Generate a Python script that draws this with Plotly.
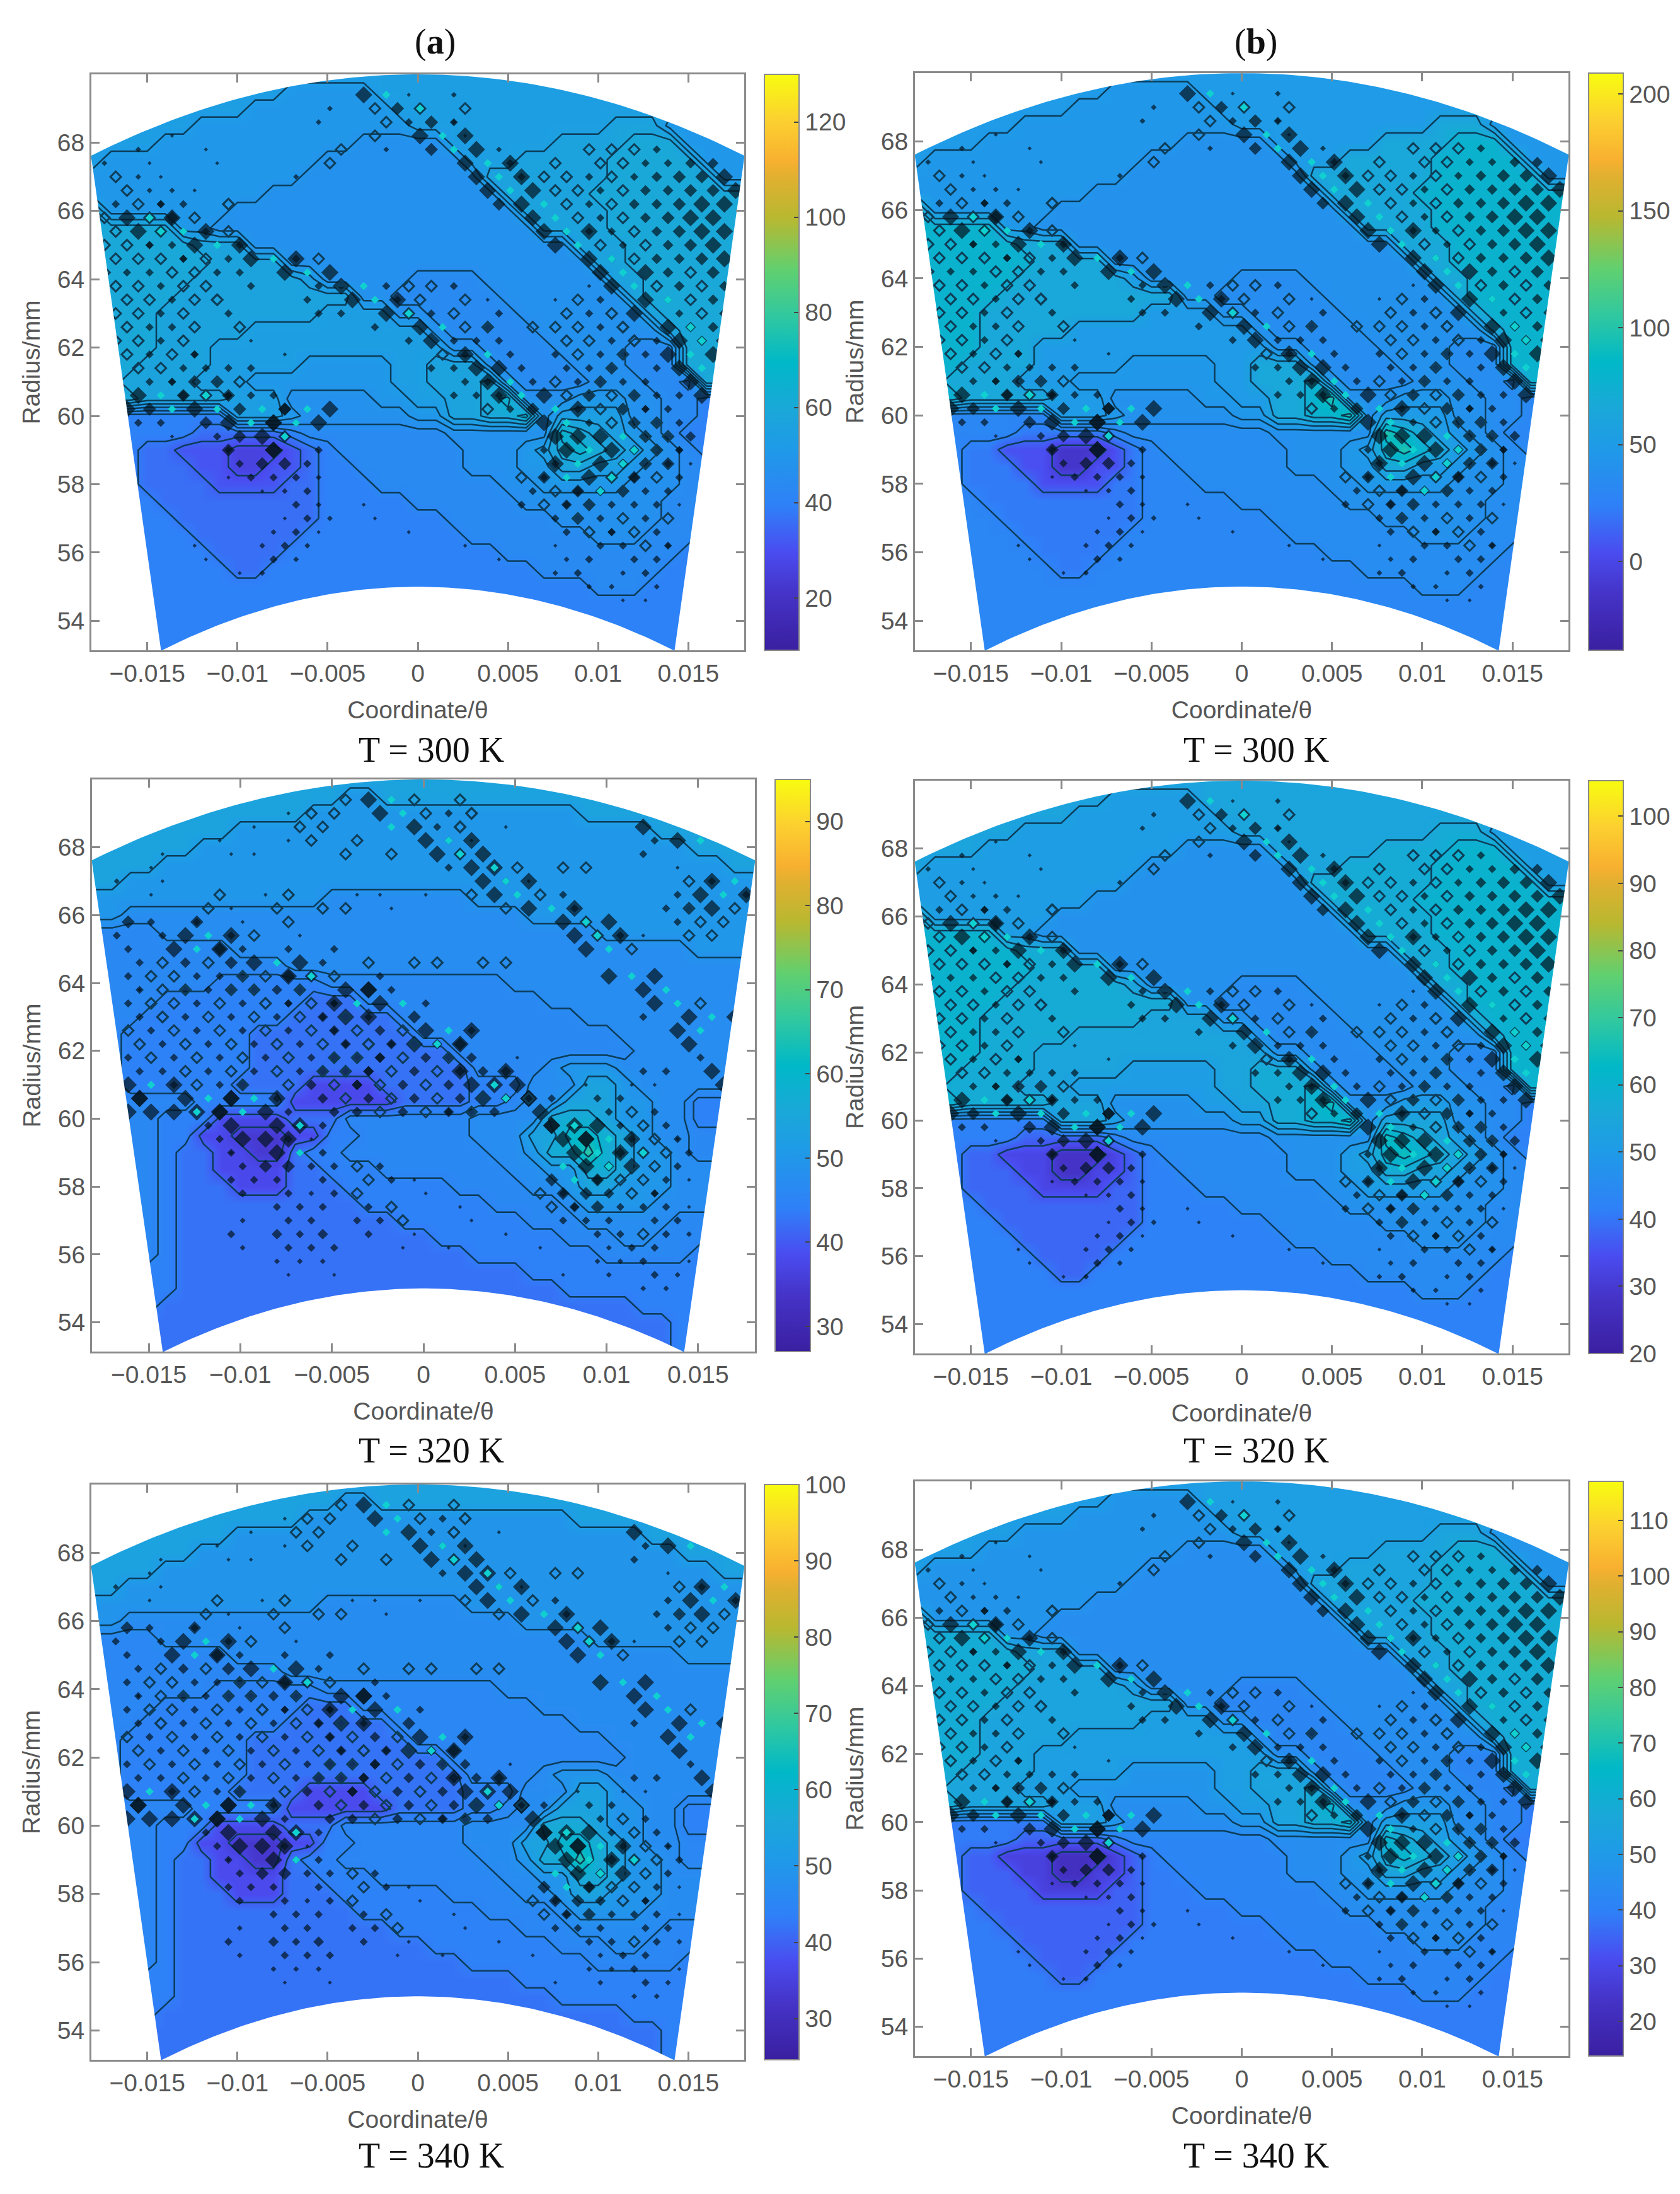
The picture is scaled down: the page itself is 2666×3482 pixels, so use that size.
import numpy as np
import plotly.graph_objects as go

W, H = 2666, 3482

# colour scale
colorscale = [[0, "#3a1fa0"], [0.1, "#4534c8"], [0.17, "#4a4cf0"], [0.25, "#2f80f8"], [0.35, "#1f9ae8"],
              [0.42, "#1aa8d8"], [0.5, "#00b8c8"], [0.58, "#30c8a0"], [0.66, "#60d070"], [0.75, "#b8b830"],
              [0.82, "#e0b030"], [0.85, "#f8b030"], [0.92, "#fcd030"], [1, "#f8fc10"]]

# region maps: rows from 70 mm downward in 0.5 mm steps, "rank:x_start" with x in 1e-3
regions_b = ["7:-18", "7:-18 6:-7 7:-2", "7:-18 6:-9 7:-1", "7:-18 6:-12 7:0 8:11 6:14",
    "7:-18 6:-14 5:-3 7:2 8:8 9:12 6:15", "7:-18 6:-17 5:-5 7:3 8:6 9:11 6:16", "6:-18 5:-6 8:4 9:11 6:17",
    "6:-18 5:-8 8:5 9:10", "9:-18 6:-17 5:-10 8:6 9:11", "9:-18 6:-13 5:-11 8:7 9:11", "9:-18 8:-12 5:-9 8:9 9:12",
    "9:-18 8:-11 5:-7 8:10 9:12", "9:-18 8:-12 7:-6 5:-5 4:0 5:4 8:11 9:13", "9:-18 8:-13 5:-3 4:-1 5:5 8:12 9:13",
    "9:-18 8:-14 7:-5 5:-1 4:1 5:6 8:13 9:14", "9:-18 8:-14 7:-9 5:1 4:2 5:7 8:14 9:15",
    "9:-18 8:-14 7:-11 5:2 4:4 5:8 4:12 9:15", "9:-18 8:-15 7:-11 6:-6 7:-1 8:1 5:4 4:5 5:9 4:12 9:15",
    "9:-18 8:-16 7:-12 6:-9 7:-1 8:1 9:4 5:5 4:6 5:10 4:13 3:15 9:16",
    "9:-18 8:-15 7:-10 5:-7 6:-2 7:0 8:2 9:4 a:5 5:6 6:9 5:12 4:14 3:16",
    "3:-18 7:-10 6:-7 5:-6 6:0 8:2 9:4 a:6 5:7 7:8 5:12 4:14 3:16",
    "3:-18 2:-12 3:-7 4:-6 5:2 a:8 9:9 8:10 7:11 6:12 5:13 4:14 3:15",
    "3:-18 2:-15 1:-13 0:-10 1:-7 2:-6 3:-5 4:-4 5:3 6:6 7:7 9:8 a:9 9:10 8:11 7:12 6:13 5:14 4:15 3:16",
    "3:-18 2:-15 1:-12 0:-10 1:-8 2:-6 3:-5 4:-3 5:3 6:6 8:8 7:10 6:12 5:13 4:15 3:17",
    "3:-18 2:-15 1:-11 2:-7 3:-5 4:-2 5:5 6:7 5:12 4:15 3:17", "3:-18 2:-14 3:-5 4:0 5:6 4:14 3:17",
    "3:-18 2:-13 3:-5 4:2 5:8 4:14 3:16", "3:-18 2:-12 3:-6 4:3 5:10 4:13 3:16", "3:-18 2:-11 3:-7 4:5 3:15",
    "3:-18 2:-10 3:-8 4:7 3:14", "3:-18 4:10 3:13", "3:-18", "3:-18", "3:-18", "3:-18"]

regions_a = ["7:-18", "7:-18 6:-4 7:-2", "7:-18 6:-6 7:9", "7:-18 6:-10 7:13", "7:-18 6:-12 7:15", "7:-18 6:-14 7:17",
    "7:-18 6:-16", "6:-18 5:-5 6:3", "6:-18 5:-16 6:6", "4:-18 5:-14 6:10", "4:-18 5:-10 6:15", "4:-18 5:-7",
    "4:-18 3:-11 4:-5 5:5", "4:-18 3:-14 2:-6 4:-3 5:7", "4:-18 3:-15 2:-7 4:-1 5:9", "4:-18 3:-16 2:-9 4:0 5:11",
    "4:-18 3:-16 2:-9 4:2 5:12", "4:-18 3:-16 2:-9 4:3 5:7 6:8 5:11", "4:-18 3:-16 2:-10 1:-6 2:-2 3:3 5:6 7:9 6:11 5:12",
    "4:-18 3:-12 1:-7 2:-1 3:3 4:5 5:6 7:7.5 6:11 5:13 3:15", "4:-18 3:-14 1:-11 2:-7 4:-4 5:3 8:7 7:10 6:11 5:13 3:15",
    "4:-18 3:-14 1:-12 0:-10 1:-7 3:-5 4:-3 5:3 7:6 9:8 8:10 7:11 6:12 5:13 4:15",
    "4:-18 3:-14 2:-13 1:-11 0:-9 2:-7 3:-6 4:-4 5:4 6:6 8:7 a:8.5 8:10 7:11 6:12 5:14 4:15",
    "4:-18 3:-14 2:-13 1:-11 2:-7 3:-5 4:-2 5:5 6:7 8:8.5 7:10.5 6:12 5:14",
    "4:-18 3:-14 2:-13 1:-10.5 2:-7 3:-4 4:2 5:6 6:8 7:9 6:11 5:14", "4:-18 3:-14 2:-13 3:-3 4:4 5:8 6:9 5:13",
    "4:-18 3:-14 2:-13 3:-1 4:6 5:9 4:14", "4:-18 3:-14 2:-13 3:1 4:8 5:10.5 4:13 3:15.5", "4:-18 3:-14 2:-13 3:3 4:10 3:15",
    "4:-18 3:-15 2:-13 3:6", "4:-18 3:-15 2:-13 3:8", "4:-18 3:-16 2:-14 3:12", "3:-18 2:-15 3:14", "3:-18 2:-15 3:14",
    "3:-18 2:-15 3:14"]

# contour-noise diamonds: rows from 69.4 mm downward in 0.4 mm steps, "x_start:codes"
spots_b = ["-3.2:6c -0.5:1.2", "-4.5:2 -3:o5c 0:o.o", "-5:2 -2:o.5 -0.5:3o3 2:2", "-14:1 -3:o 0:6c6 2:o 3.2:1",
    "-16:2 -12:1 -4:o.2 1:5c6 4:2 9.5:oo 12:o3", "-17:2 -15:1 -11:1 -5:o 2:6c6 4.5:3 7:o.oo3344",
    "-17:o -15.5:2 -14:1 -7:2 3:6c6 5.5:3 7:oo3o34556", "-16.5:o2 -14:2 -12:1 4:6c6 7:oo3o44556",
    "-17:3o3 -14:3 -12.5:3 -11:o -10:o 5:56c 8:o3o44566", "-17.5:o6c6 -14.5:o5 -12:o 6:6c 9:o3o4566",
    "-17:o6c3 -14.5:5c6 -12:3 -10.5:o 7:6c6 10:33o4566", "-17.5:oo3 -14.5:33 -12:6c6 -9.5:3 8:6c 10.5:o3o456",
    "-17:ooo3 -13:3o -10:3 -9:6c6 -6.5:3o 9:6c 11:3o4456", "-17:o33o -12.5:o3 -10:3 -7:6c6 -4.5:o 10:6c6 12.5:o4o5",
    "-17:oo3o -12:o -9:3 -5:3o -4:6c -2:3 -1:o 1:o3 9:1 11:6c 13:o4o4",
    "-16.5:oo3oo -11:o -6:3 -4:6c6 -1.5:3 0:o 2:o 4:1 7:1 8.5:o3 12:6c 14:3o4",
    "-17:oo3o -11:3 -5:33 -1.5:6c 0:o3 2.5:o 4:3 8:o3o 11:o 12.5:6 14:3o4", "-16.5:o33o -10:o -2:3 0:6c 2:o3 4:o 6:o 8:oo3o 11:o 13.5:6c 15:44",
    "-16.5:oo3o -9:1 -1:3 0.5:6 2:33 4:3 8.5:oo3o3 12:o 14:6c6 15.5:4", "-16:o3o3 -12:3 -8:1 1:o3 2.2:6c 4.5:3 7:3 9:o3o 11.5:33 14:6c6",
    "-15.5:oo33 -11:33 1:33 3:6 4.5:6 6:3 8:33o 10.5:3 13:3 15:6c", "-15.5:33oo -13.5:34 -11:3o 2:33 4:6c 6:3 8:o33 10:o3 13:3 15.5:6",
    "-16:6c4 -13.5:5c5 -11.5:o3 -10:33 -8.5:3 2:3 3.5:33 5:6c6 8:o4 9.5:oo3 12:o3 14:3 16:6",
    "-16.5:65c6c5c5c6 -7:5 4:o3 6:5c6 9:3o4 11:o33 13:3", "-15:33 -12:5 -10.5:6c6 -8.5:6c6 -6.5:3 7:6c 9:3o4o 12:o3 14:3",
    "-14:1 -11.5:3 -10:5 -8.5:6c -7:5 8:66 9.5:6c5o4 13:o3", "-11:3 -10:5 -8.5:6 -7.5:6 -6:3 7.5:3 8.5:6c6c5 12:4o3 14:3",
    "-10:3 -9:5 -8:5 -6.5:3 7:3 8:6c6c55 11.5:4o3 14.5:1", "-10:1 -9:3 -8:3 -7:3 -5.5:2 6:o3 7.5:5c6c5 11:o4 13:o3",
    "-8.5:1 -7:2 -6:3 6:3 7:o4 8.5:5c5 10.5:4o 13:33", "-7:3 -5.5:2 -3:1 5.5:3 7:o3 8.5:44 10:o3 12:33 14:1",
    "-8:1 -6.5:3 -5:2 -2:1 7:3o 8.5:3 10:3o 12:3o", "-8:2 -6.5:3 -5:1 0:1 8:3 9.5:o3 11:3o 13:3",
    "-13:1 -9:2 -7.5:3 -6:2 3:1 8:1 10:33 12:o3 14:2", "-12:1 -8.5:3 -7:2 5:1 8:2 10:3 12:3 13.5:3",
    "-10:1 -8.5:2 7:2 9:3 11:2 13:3 14.5:2", "9:2 11:2 13:2", "11:1 12.5:1"]

spots_a = ["-4.5:o -3.2:6c 0:o 1.5:o", "-8:1 -6:o -4.5:o -2.5:6c 0:o3o 2:o", "-9:1 -7:o -5:o -1.5:c6 -0.5:o 0.6:3o 2:o 4:1 12.5:6",
    "-11:1 -8:1 -6:o -4:o -0.5:6c6 1.5:3o 3:1 12:3 13.5:6c", "-14:1 -11:1 -9:1 -4:o -2:o 0.5:6c6 2.5:o 3.5:o 12.5:3",
    "-15.5:1 1.5:3 2.5:6c 4:6 5:o 7:o 9:o 13.5:1", "-17:2 -14:1 3:6c6 5:3 6:1 14:o3 15.5:6c",
    "-15:1 -11:o -9:1 -7:o -4:1 -2:1 0:1 2:o 4:6c 6:o3 14:3o 15:6c6 17:3", "-12:o -10:1 -8:o -6:o -4:o -2:1 4.5:o 6:6c6 8:3 13.5:33 15:o6 16.5:o3",
    "-16.5:5 -15.5:3 -13:3 -12:5 -10:1 -8:o 7:6c6 9:o 14:3o 16.5:o", "-17:3 -14.5:36c6 -10.5:3 -9:o -7:1 8:6c6 10:o3 12:1 14:o 16:o",
    "-16:3 -14:6c6 -11:5 -9.5:3 -7:3 -5:3 9:6c 11:o", "-15.5:3 -14:o4o5 -9:6c6 -6:3 -3:o -1:o 1:o 3:o 5:o",
    "-16:3o -14:o33o -10:3o5 -8:6c -6:5 -4.5:o -2:3 9.5:o 10.5:6c6", "-16:1 -15:3o3 -13:o3o3 -10:3o4o -7:3 -4:66 -2.8:6 -1.5:3 12:6c",
    "-16:3o -14:o3o3o3 -9:o3o3 -5:3 -4.5:6c6c 0:3 13:6c 15:o", "-16:3o -14.5:o3o3o3o3 -6:4o6 -4:6 -2.5:3 -1:5 12:3 14:6c6",
    "-16.5:o3o3o3o3o3 -5.5:4o4o 0:6c6 2:3 14:6c", "-16:o3o3o3o3o3o3 -4.5:4o4o4 -0.7:6c6 1:3 2.5:5 15:6",
    "-16.5:3o3o3o3o3o34 -5:4o4o4o4 1:3 5:1 15:3", "-16:33o3o3o3o34 -6:4o4o4o44 2.5:6 4:6 5:4 12:3 13:3 15.5:6c",
    "-16:6c6 -13.5:3o3o -10:5 -8:o4o4 -3.5:4o4o4 2:6c6 4:6 9:1 11:1 13:1 16:6",
    "-16:6 -15:6 -13.5:6c6 -10.5:6c6 -7.5:3 -5:4o4o4o4o4o 3:6c6 5.5:6 7:3 9:3 11:3",
    "-16.5:66 -14:6c6 -12:6 -11:6 -10:c6 -7:3 -5:44o4o4o4 1:3 2.5:3 6:6 10:3o3", "-12:3 -10.5:6 -8.5:6c -6.5:6 -5:3 6.5:6 7.5:66 8.7:c6 11:3o 13:3",
    "-11:3 -9.8:6 -8.5:66 -7:3 -6:1 8:66 9:6c6 11:3 12:o3 14:1", "-11:1 -10:3 -8.5:6c -7:3 -5.5:3 8.5:6c6c 11:4o 13:o3",
    "-10:3 -9:5 -8:5 -6.5:3 -5:3 -4:o3 8:c6c6 10.5:4o 12.5:o3", "-10:3 -9:3 -7.5:3 -6:3 -3:o3 -1:1 7.5:5c5 10:4o 12:o3 14:1",
    "-9.5:3 -8:3 -6.5:2 -5:3 -3.5:o 0:1 6.5:o3 8:55 9.5:4 11:o3 13:3", "-8.5:3 -7:3 -5:3 -3.5:3 -2:o 2:1 7:o3 8.5:44 10:o3 12:33 14:1",
    "-9.5:2 -8:3 -6:3 -4:3 -2:3 -1:o 3:1 8:33 10:3 12:3 13.5:3", "-10:3 -8.5:4 -7:3 -5.5:4 -3:3 0:1 4:1 9:3 10.5:3 12:o3 14:2",
    "-9.5:2 -8:3 -6.5:3 -5:3 -1:1 1:1 6:1 10:2 11.5:3 13:3", "-8:2 -6.5:2 -5:2 9:2 11:2 12.5:3 14:1", "-7:1 -5:1 7:1 10:2 12:3 13.5:2",
    "-15:1 12:2 13.5:2"]

# temperature of each rank, per panel
values_a1 = [26, 31, 36, 40, 44, 47, 50, 54, 57, 60, 67]
values_b1 = [-12, 5, 22, 30, 36, 40, 46, 50, 65, 78, 100]
values_a2 = [35, 38, 42.5, 44.5, 46, 47.5, 50, 54, 57, 61, 66]
values_b2 = [28, 33, 38, 42, 45, 47, 51, 54, 57, 60, 65]
values_a3 = [33, 37, 42, 44, 45.5, 47, 49.5, 54, 57, 61, 67]
values_b3 = [22, 28, 35, 39, 42, 45, 48, 52, 55, 59, 64]

panels = [
    dict(name="a1", box=(145, 118, 1181, 1032), bar=(1213, 1268), ctx=(9, 130), ticks=[20, 40, 60, 80, 100, 120], vals=values_a1, reg=regions_b, spots=spots_b, cap="T = 300 K", capxy=(684, 1190)),
    dict(name="b1", box=(1452, 116, 2489, 1032), bar=(2521, 2576), ctx=(-38, 209), ticks=[0, 50, 100, 150, 200], vals=values_b1, reg=regions_b, spots=spots_b, cap="T = 300 K", capxy=(1993, 1190)),
    dict(name="a2", box=(146, 1237, 1198, 2145), bar=(1230, 1286), ctx=(27, 95), ticks=[30, 40, 50, 60, 70, 80, 90], vals=values_a2, reg=regions_a, spots=spots_a, cap="T = 320 K", capxy=(684, 2302)),
    dict(name="b2", box=(1452, 1239, 2489, 2148), bar=(2521, 2576), ctx=(20, 105.3), ticks=[20, 30, 40, 50, 60, 70, 80, 90, 100], vals=values_b2, reg=regions_b, spots=spots_b, cap="T = 320 K", capxy=(1993, 2302)),
    dict(name="a3", box=(145, 2356, 1181, 3269), bar=(1213, 1268), ctx=(24.6, 100), ticks=[30, 40, 50, 60, 70, 80, 90, 100], vals=values_a3, reg=regions_a, spots=spots_a, cap="T = 340 K", capxy=(684, 3421)),
    dict(name="b3", box=(1452, 2351, 2489, 3263), bar=(2521, 2576), ctx=(13.8, 117), ticks=[20, 30, 40, 50, 60, 70, 80, 90, 100, 110], vals=values_b3, reg=regions_b, spots=spots_b, cap="T = 340 K", capxy=(1993, 3421)),
]

x_ticks = [-0.015, -0.01, -0.005, 0, 0.005, 0.01, 0.015]
x_labels = ["\u22120.015", "\u22120.01", "\u22120.005", "0", "0.005", "0.01", "0.015"]
y_ticks = [54, 56, 58, 60, 62, 64, 66, 68]
TXT = "#565656"
AX = "#8a8a8a"
GRID_X = [(-18 + k) * 1e-3 for k in range(37)]
SIZES = {"1": 5, "2": 7, "3": 10, "4": 13, "5": 16, "6": 21}


def rank_grid(rows):
    g = []
    for row in rows:
        toks = [t.split(":") for t in row.split()]
        line = []
        for c in range(37):
            x = -18 + c
            r = toks[0][0]
            for a, b in toks:
                if float(b) <= x:
                    r = a
            line.append(int(r, 16))
        g.append(line)
    return g


def read_spots(rows):
    out = {"fill": ([], [], []), "open": ([], []), "cyan": ([], [])}
    for j, row in enumerate(rows):
        y = 69.4 - 0.4 * j
        x0 = -18 + (0.625 if j % 2 else 0)
        for tok in row.split():
            xs, codes = tok.split(":")
            k0 = round((float(xs) - x0) / 1.25)
            for n, ch in enumerate(codes):
                x = (x0 + 1.25 * (k0 + n)) * 1e-3
                if ch in SIZES:
                    out["fill"][0].append(x); out["fill"][1].append(y); out["fill"][2].append(SIZES[ch])
                elif ch == "o":
                    out["open"][0].append(x); out["open"][1].append(y)
                elif ch == "c":
                    out["cyan"][0].append(x); out["cyan"][1].append(y)
    return out


# sector outline: r from 55 to 70 mm, +/-15 degrees; the hole runs opposite to the outer rectangle
th = np.radians(np.linspace(-15, 15, 90))
mx = np.concatenate([70 * np.sin(th) / 1000, 55 * np.sin(th[::-1]) / 1000, [70 * np.sin(th[0]) / 1000]])[::-1]
my = np.concatenate([70 * np.cos(th), 55 * np.cos(th[::-1]), [70 * np.cos(th[0])]])[::-1]
mask_x = [-0.03, 0.03, 0.03, -0.03, -0.03] + list(mx) + [-0.03]
mask_y = [75, 75, 50, 50, 75] + list(my) + [75]

fig = go.Figure()
layout = dict(width=W, height=H, margin=dict(l=0, r=0, t=0, b=0), paper_bgcolor="white", plot_bgcolor="white",
              showlegend=False, font=dict(family="Liberation Sans", color=TXT), annotations=[])

for n, p in enumerate(panels):
    s = "" if n == 0 else str(n + 1)
    xa, ya = "x" + s, "y" + s
    l, t, r, b = p["box"]
    g = rank_grid(p["reg"])
    y_rows = [70 - 0.5 * j for j in range(len(g))]
    z = [[p["vals"][v] for v in row] for row in g]
    fig.add_trace(go.Heatmap(x=GRID_X, y=y_rows, z=z, zsmooth="best", colorscale=colorscale, zmin=p["ctx"][0], zmax=p["ctx"][1],
                             xaxis=xa, yaxis=ya, hoverinfo="skip",
                             colorbar=dict(x=p["bar"][0] / W, xanchor="left", xpad=0, y=1 - t / H, yanchor="top", ypad=0,
                                           len=(b - t) / H, lenmode="fraction", thickness=p["bar"][1] - p["bar"][0],
                                           thicknessmode="pixels", outlinecolor=AX, outlinewidth=2, tickvals=p["ticks"],
                                           ticks="inside", ticklen=9, tickwidth=2, tickcolor="#444444",
                                           tickfont=dict(size=39, color=TXT, family="Liberation Sans"))))
    fig.add_trace(go.Contour(x=GRID_X, y=y_rows, z=g, autocontour=False, showscale=False, hoverinfo="skip", xaxis=xa, yaxis=ya,
                             contours=dict(start=0.5, end=9.5, size=1, coloring="none"),
                             line=dict(color="#0c3c58", width=2.5, smoothing=0)))
    sp = read_spots(p["spots"])
    fig.add_trace(go.Scatter(x=sp["fill"][0], y=sp["fill"][1], mode="markers", xaxis=xa, yaxis=ya, hoverinfo="skip",
                             marker=dict(symbol="diamond", size=sp["fill"][2], color="#04141e", line=dict(width=0))))
    fig.add_trace(go.Scatter(x=sp["open"][0], y=sp["open"][1], mode="markers", xaxis=xa, yaxis=ya, hoverinfo="skip",
                             marker=dict(symbol="diamond-open", size=13, color="#0f3c55", line=dict(width=3, color="#0f3c55"))))
    fig.add_trace(go.Scatter(x=sp["cyan"][0], y=sp["cyan"][1], mode="markers", xaxis=xa, yaxis=ya, hoverinfo="skip",
                             marker=dict(symbol="diamond", size=10, color="#10d0d0", line=dict(width=0))))
    fig.add_trace(go.Scatter(x=mask_x, y=mask_y, mode="lines", fill="toself", fillcolor="white", line=dict(width=0),
                             xaxis=xa, yaxis=ya, hoverinfo="skip"))
    common = dict(showline=True, linecolor=AX, linewidth=3, mirror="ticks", ticks="inside", ticklen=13, tickwidth=3, tickcolor=AX,
                  showgrid=False, zeroline=False, tickfont=dict(size=39, color=TXT, family="Liberation Sans"), layer="above traces")
    layout["xaxis" + s] = dict(common, domain=[l / W, r / W], range=[-0.0181, 0.0181], anchor=ya, tickmode="array", tickvals=x_ticks,
                               ticktext=x_labels, title=dict(text="Coordinate/\u03b8", font=dict(size=39, color=TXT), standoff=24))
    layout["yaxis" + s] = dict(common, domain=[1 - b / H, 1 - t / H], range=[53.14, 70], anchor=xa, tickmode="array", tickvals=y_ticks,
                               title=dict(text="Radius/mm", font=dict(size=39, color=TXT), standoff=16))
    layout["annotations"].append(dict(text=p["cap"], x=p["capxy"][0] / W, y=1 - p["capxy"][1] / H, xref="paper", yref="paper",
                                      showarrow=False, xanchor="center", yanchor="middle",
                                      font=dict(family="Liberation Serif", size=56, color="#111111")))

for label, px in [("(<b>a</b>)", 690), ("(<b>b</b>)", 1993)]:
    layout["annotations"].append(dict(text=label, x=px / W, y=1 - 67 / H, xref="paper", yref="paper", showarrow=False,
                                      xanchor="center", yanchor="middle", font=dict(family="Liberation Serif", size=56, color="#111111")))

fig.update_layout(**layout)
fig.write_html("out.html", config=dict(displayModeBar=False), post_script="document.body.style.margin='0';")
